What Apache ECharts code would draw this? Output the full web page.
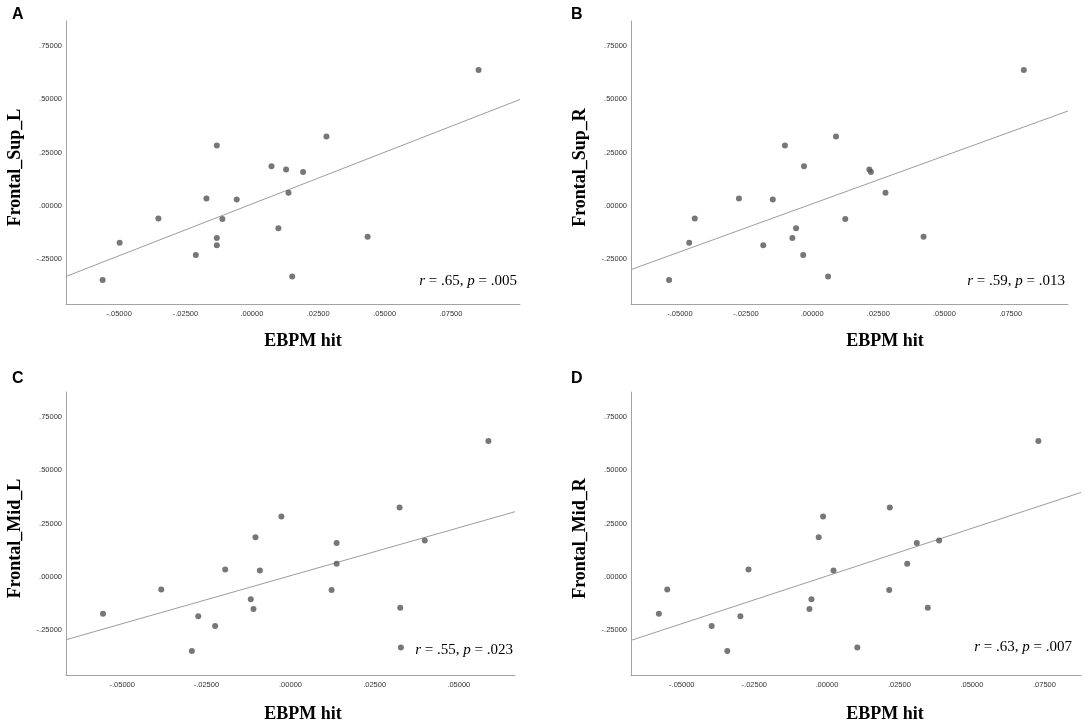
<!DOCTYPE html>
<html>
<head>
<meta charset="utf-8">
<script src="https://cdn.jsdelivr.net/npm/echarts@6/dist/echarts.min.js"></script>
<style>
  html, body { margin: 0; padding: 0; background: #fff; }
  #chart { width: 1084px; height: 725px; }
</style>
</head>
<body>
<div id="chart"></div>
<script>
const chartDom = document.getElementById('chart');
const myChart = echarts.init(chartDom);

// y values (shared by all four panels)
let yVals = [0.636, 0.325, 0.283, 0.186, 0.170, 0.159, 0.061, 0.034, 0.030, -0.059,
  -0.061, -0.105, -0.144, -0.150, -0.172, -0.184, -0.230, -0.330, -0.347];
// EBPM hit for each panel
let xA = [0.0854, 0.0281, -0.0132, 0.0074, 0.0129, 0.0193, 0.0138, -0.0171, -0.0057, -0.0352,
  -0.0111, 0.0100, 0.0436, -0.0132, -0.0498, -0.0132, -0.0211, 0.0152, -0.0562];
let xB = [0.0800, 0.0090, -0.0103, -0.0031, 0.0216, 0.0222, 0.0277, -0.0277, -0.0149, -0.0444,
  0.0125, -0.0061, 0.0421, -0.0075, -0.0465, -0.0185, -0.0034, 0.0060, -0.0541];
let xC = [0.0588, 0.0324, -0.0027, -0.0104, 0.0399, 0.0137, 0.0137, -0.0194, -0.0091, -0.0384,
  0.0122, -0.0118, 0.0326, -0.0110, -0.0557, -0.0274, -0.0224, 0.0328, -0.0293];
let xD = [0.0729, 0.0217, -0.0013, -0.0028, 0.0387, 0.0310, 0.0277, -0.0270, 0.0023, -0.0550,
  0.0215, -0.0053, 0.0348, -0.0060, -0.0579, -0.0298, -0.0397, 0.0105, -0.0343];

// fit line end points
let fitA = [[-0.070, -0.330], [0.101, 0.498]];
let fitB = [[-0.0685, -0.298], [0.0967, 0.444]];
let fitC = [[-0.0667, -0.294], [0.0667, 0.305]];
let fitD = [[-0.0675, -0.297], [0.0876, 0.395]];

// axis ranges and ticks
let xRanges = [[-0.070, 0.101], [-0.0685, 0.0967], [-0.0667, 0.0667], [-0.0675, 0.0876]];
let yRange = [-0.459, 0.865];
let yTicks = [-0.25, 0, 0.25, 0.5, 0.75];
let xTicksLong = [-0.05, -0.025, 0, 0.025, 0.05, 0.075];
let xTicksShort = [-0.05, -0.025, 0, 0.025, 0.05];

let panelNames = ['Frontal_Sup_L', 'Frontal_Sup_R', 'Frontal_Mid_L', 'Frontal_Mid_R'];
let letters = ['A', 'B', 'C', 'D'];
let stats = [['.65', '.005'], ['.59', '.013'], ['.55', '.023'], ['.63', '.007']];

const xs = [xA, xB, xC, xD];
const fits = [fitA, fitB, fitC, fitD];
const xTicks = [xTicksLong, xTicksLong, xTicksShort, xTicksLong];

const grids = [
  { left: 66, top: 21, width: 454, height: 283 },
  { left: 631, top: 21, width: 437, height: 283 },
  { left: 66, top: 392, width: 449, height: 283 },
  { left: 631, top: 392, width: 450, height: 283 }
];
// horizontal shift of the x title, and placement of letters / stats
const xNamePad = [20, 71, 25, 58];
const xNameGap = [28, 28, 30, 30];
const letterPos = [[12, 7], [571, 7], [12, 371], [571, 371]];
const statPos = [[567, 274], [19, 274], [571, 643], [12, 640]];

function fmt(v) {
  let s = Math.abs(v).toFixed(5).replace(/^0/, '');
  return (v < 0 ? '-' : '') + s;
}

const axisLineStyle = { show: true, onZero: false, lineStyle: { color: '#a3a3a3', width: 1 } };
const tickFont = { fontFamily: 'Liberation Sans', fontSize: 7.5, color: '#333' };

let xAxis = [], yAxis = [], series = [], title = [];
for (let i = 0; i < 4; i++) {
  xAxis.push({
    type: 'value', gridIndex: i, min: xRanges[i][0], max: xRanges[i][1],
    axisLine: axisLineStyle, axisTick: { show: false }, splitLine: { show: false },
    axisLabel: Object.assign({ customValues: xTicks[i], formatter: fmt, margin: 6 }, tickFont),
    name: 'EBPM hit', nameLocation: 'middle', nameGap: xNameGap[i],
    nameTextStyle: {
      fontFamily: 'Liberation Serif', fontWeight: 'bold', fontSize: 18, color: '#000',
      padding: [0, 0, 0, xNamePad[i]]
    }
  });
  yAxis.push({
    type: 'value', gridIndex: i, min: yRange[0], max: yRange[1],
    axisLine: axisLineStyle, axisTick: { show: false }, splitLine: { show: false },
    axisLabel: Object.assign({ customValues: yTicks, formatter: fmt, margin: 4 }, tickFont),
    name: panelNames[i], nameLocation: 'middle', nameGap: 42,
    nameTextStyle: {
      fontFamily: 'Liberation Serif', fontWeight: 'bold', fontSize: 18, color: '#000',
      padding: [0, 10, 0, 0]
    }
  });
  series.push({
    type: 'line', xAxisIndex: i, yAxisIndex: i, data: fits[i],
    showSymbol: false, silent: true, z: 1,
    lineStyle: { color: '#9c9c9c', width: 1 }
  });
  series.push({
    type: 'scatter', xAxisIndex: i, yAxisIndex: i, z: 3,
    symbolSize: 6,
    itemStyle: { color: '#555555' },
    data: xs[i].map((x, k) => [x, yVals[k]])
  });
  title.push({
    text: letters[i], left: letterPos[i][0], top: letterPos[i][1], padding: 0,
    textStyle: { fontFamily: 'Liberation Sans', fontWeight: 'bold', fontSize: 16, color: '#000' }
  });
  let st = { text: '{i|r} = ' + stats[i][0] + ', {i|p} = ' + stats[i][1], top: statPos[i][1], padding: 0,
    textStyle: {
      fontFamily: 'Liberation Serif', fontWeight: 'normal', fontSize: 15, color: '#000',
      rich: { i: { fontFamily: 'Liberation Serif', fontStyle: 'italic', fontSize: 15, color: '#000' } }
    }
  };
  st.right = statPos[i][0];
  title.push(st);
}

let option = {
  animation: false,
  backgroundColor: '#fff',
  title: title,
  grid: grids,
  xAxis: xAxis,
  yAxis: yAxis,
  series: series
};

myChart.setOption(option);
</script>
</body>
</html>
